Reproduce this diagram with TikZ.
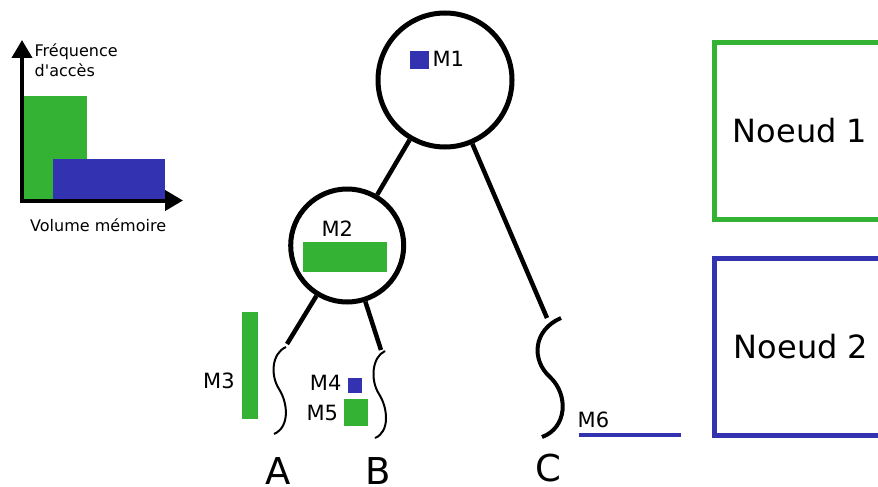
\documentclass[tikz,border=0pt]{standalone}
\usepackage{fontspec}
\setmainfont{DejaVu Sans}
\usetikzlibrary{arrows.meta}

\definecolor{vert}{RGB}{51,178,51}
\definecolor{bleu}{RGB}{51,51,178}
\newcommand{\apostr}{\XeTeXglyph\XeTeXcharglyph"0027 }

\begin{document}
\begin{tikzpicture}[x=1pt,y=-1pt,
		tree/.style={line width=4.5pt},
		noeud/.style={circle,draw,line width=5pt,inner sep=0pt},
		brace/.style={line width=2pt},
		lbl/.style={inner sep=0pt,anchor=base west,font=\fontsize{21}{25}\selectfont},
		small/.style={inner sep=0pt,anchor=base west,font=\fontsize{16}{19}\selectfont},
		leaf/.style={inner sep=0pt,anchor=base,font=\fontsize{37}{44}\selectfont},
		cadre/.style={line width=5pt},
		axe/.style={line width=4pt,{Triangle[length=18pt,width=20pt]}-{Triangle[length=18pt,width=20pt]}}]

		\useasboundingbox (0,0) rectangle (878,487);

		% petit graphe frequence / volume
		\fill[vert] (21.7,96) rectangle (86.7,199);
		\fill[bleu] (53.3,159.3) rectangle (165,199);
		\draw[axe] (22,40) -- (22,200.5) -- (183,200.5);
		\node[small] (freq) at (34.5,56.7) {Fréquence};
		\node[small] (acces) at (34.5,76.7) {d\apostr accès};
		\node[small] (vol) at (30,231.7) {Volume mémoire};

		% arbre
		\node[noeud,minimum size=134pt] (N1) at (445,80) {};
		\node[noeud,minimum size=113pt] (N2) at (347.2,245.5) {};
		\coordinate (Atop) at (287,344);
		\coordinate (Btop) at (381,350);
		\coordinate (Ctop) at (547,318);

		\draw[tree] (N1) -- (N2);
		\draw[tree] (N1) -- (Ctop);
		\draw[tree] (N2) -- (Atop);
		\draw[tree] (N2) -- (Btop);

		\draw[brace] (286,347) .. controls (272,353) and (270,375) .. (279,389)
			.. controls (288,403) and (290,427) .. (274,434);
		\draw[brace] (385,351) .. controls (372,357) and (370,380) .. (379,394)
			.. controls (388,408) and (390,432) .. (375,438);
		\draw[brace,line width=4pt] (561,318) .. controls (533,330) and (531,360) .. (550,377)
			.. controls (569,395) and (567,428) .. (542,437);

		% blocs memoire
		\fill[bleu] (410,51) rectangle (429,69);
		\node[lbl] (M1) at (432.3,66.7) {M1};
		\fill[vert] (303.3,242.3) rectangle (386.7,271.7);
		\node[lbl] (M2) at (321.3,236.7) {M2};
		\fill[vert] (241.7,312.3) rectangle (258.3,419);
		\node[lbl] (M3) at (203,388.3) {M3};
		\fill[bleu] (348.3,378.3) rectangle (361.7,393.3);
		\node[lbl] (M4) at (309.7,390) {M4};
		\fill[vert] (344,399.3) rectangle (368.3,425.7);
		\node[lbl] (M5) at (306.3,420.7) {M5};
		\draw[bleu,line width=4pt] (579,435) -- (681,435);
		\node[lbl] (M6) at (577.5,427.3) {M6};

		\node[leaf] (A) at (278.3,484) {A};
		\node[leaf] (B) at (378.3,484) {B};
		\node[leaf] (C) at (548.3,481) {C};

		% noeuds
		\draw[cadre,vert] (714,42.5) rectangle (900,219);
		\draw[cadre,bleu] (714,258) rectangle (900,435);
		\node[leaf,font=\fontsize{32}{38}\selectfont] (noeud1) at (800,142.7) {Noeud 1};
		\node[leaf,font=\fontsize{32}{38}\selectfont] (noeud2) at (801,358.3) {Noeud 2};
\end{tikzpicture}
\end{document}
